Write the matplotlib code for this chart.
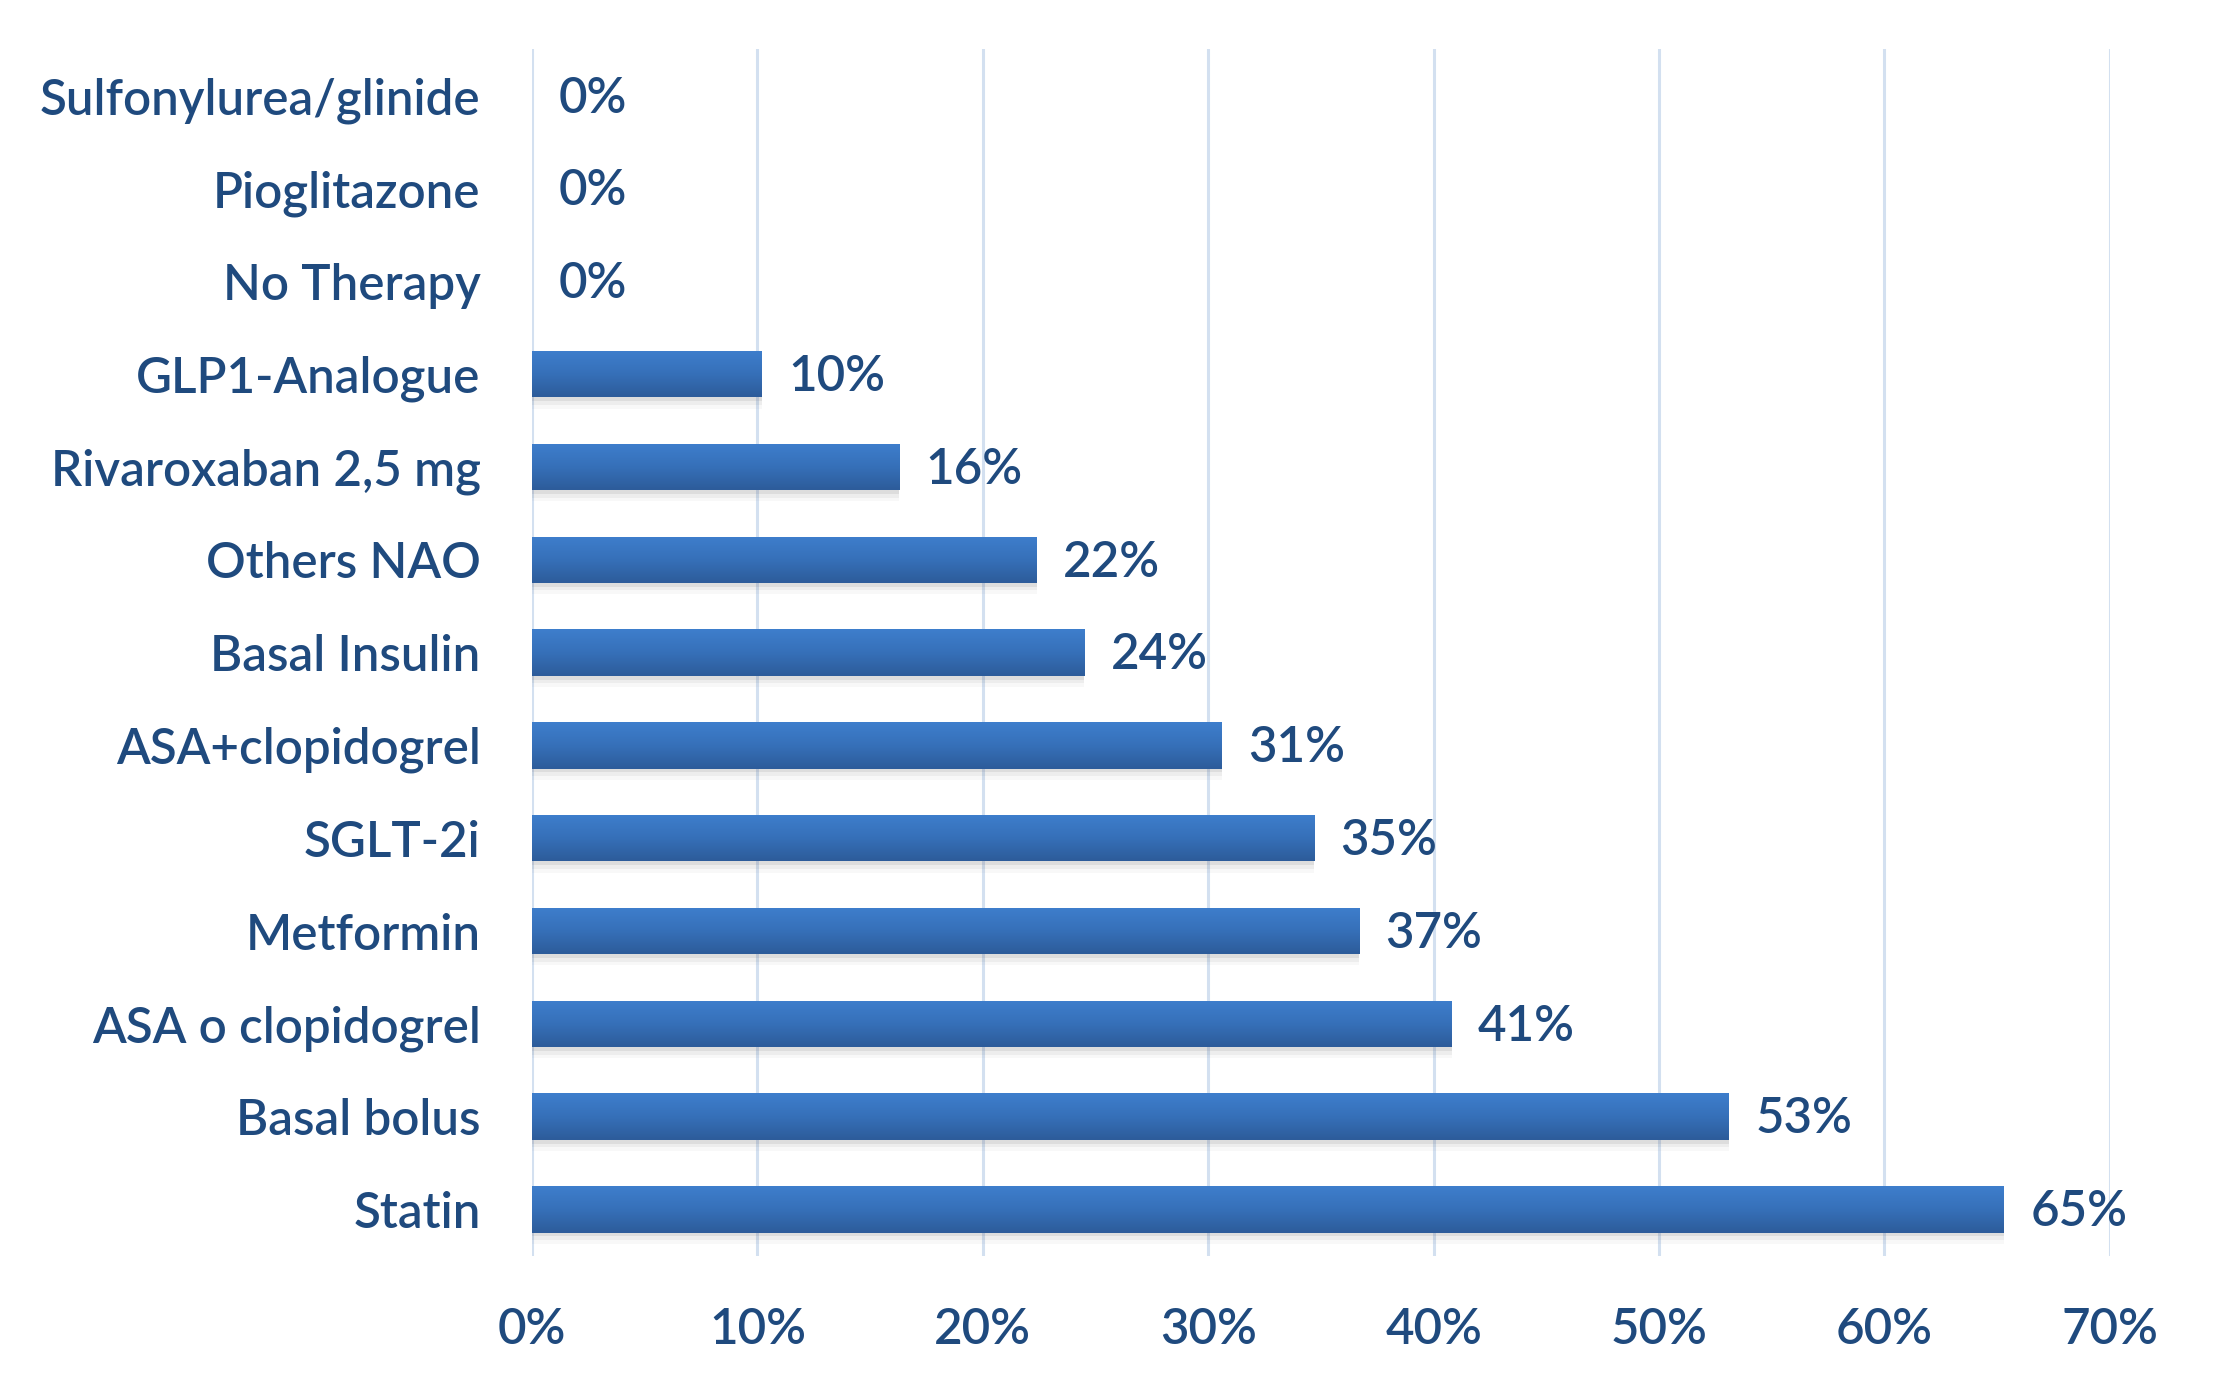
import matplotlib
matplotlib.use("Agg")
import matplotlib.pyplot as plt
import numpy as np
from matplotlib.colors import LinearSegmentedColormap

categories = ["Sulfonylurea/glinide", "Pioglitazone", "No Therapy", "GLP1-Analogue",
              "Rivaroxaban 2,5 mg", "Others NAO", "Basal Insulin", "ASA+clopidogrel",
              "SGLT-2i", "Metformin", "ASA o clopidogrel", "Basal bolus", "Statin"]
values = [0.0, 0.0, 0.0, 10.2, 16.3, 22.4, 24.5, 30.6, 34.7, 36.7, 40.8, 53.1, 65.3]
value_labels = ["0%", "0%", "0%", "10%", "16%", "22%", "24%", "31%", "35%", "37%", "41%", "53%", "65%"]
xticks = [0, 10, 20, 30, 40, 50, 60, 70]
xtick_labels = ["0%", "10%", "20%", "30%", "40%", "50%", "60%", "70%"]

TEXT = "#1F4A7E"
GRID = "#D3E0F0"
FS = 35.5
plt.rcParams['font.family'] = ['Lato', 'DejaVu Sans']
plt.rcParams['font.weight'] = 'semibold'

fig = plt.figure(figsize=(22.13, 13.97), dpi=100)
ax = fig.add_axes([0.2404, 0.1010, 0.7130, 0.8636])

n = len(categories)
ypos = np.arange(n)[::-1]
h = 0.5

# soft shadow
for k, a in enumerate([0.10, 0.07, 0.04]):
    off = 0.04 + 0.03 * k
    ax.barh(ypos - off, values, height=h + 0.02 * k, left=0, color="#606060",
            alpha=a, linewidth=0, zorder=2)

bars = ax.barh(ypos, values, height=h, color="#3873BE", linewidth=0, zorder=3)
grad = np.linspace(0, 1, 64).reshape(-1, 1)
cmap = LinearSegmentedColormap.from_list("g", ["#3E7ECC", "#3670B9", "#2D5C9A"])
for b in bars:
    x0, y0, w, hh = b.get_x(), b.get_y(), b.get_width(), b.get_height()
    if w <= 0:
        continue
    im = ax.imshow(grad, extent=[x0, x0 + w, y0, y0 + hh], origin="upper",
                   cmap=cmap, aspect="auto", zorder=4, interpolation="bicubic")
    im.set_clip_path(b)

for y, v, lab in zip(ypos, values, value_labels):
    ax.annotate(lab, (v, y), xytext=(19, -2), textcoords="offset points",
                ha="left", va="center", fontsize=FS, color=TEXT, zorder=5)

ax.set_xlim(0, 70)
ax.set_ylim(-0.5, n - 0.5)
ax.set_xticks(xticks)
ax.set_xticklabels(xtick_labels)
ax.set_yticks(ypos)
ax.set_yticklabels(categories)
ax.tick_params(axis="both", length=0, labelsize=FS, colors=TEXT)
ax.tick_params(axis="y", pad=37)
ax.tick_params(axis="x", pad=37)
for s in ax.spines.values():
    s.set_visible(False)
ax.xaxis.grid(True, color=GRID, linewidth=2.2)
ax.set_axisbelow(True)

fig.savefig("out.png", dpi=100)
